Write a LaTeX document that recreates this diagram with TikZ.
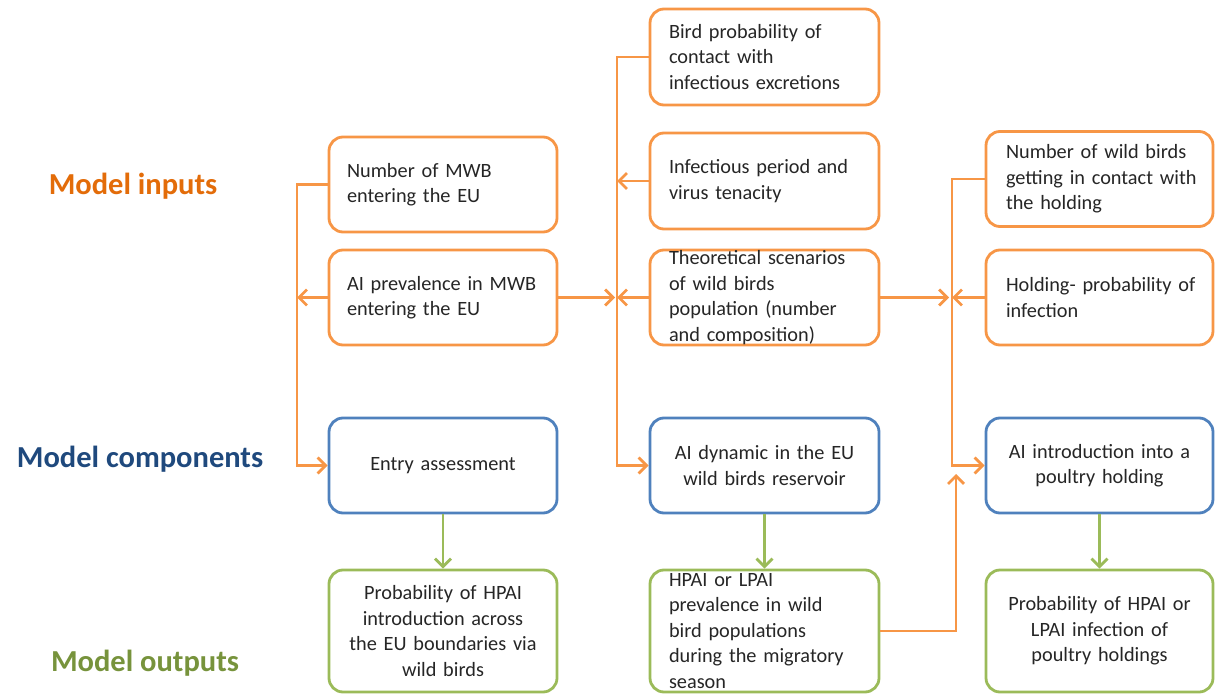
\documentclass[tikz,border=0pt]{standalone}
\usepackage{fontspec}
\setmainfont{Carlito}
\usetikzlibrary{arrows.meta}
\definecolor{oorange}{HTML}{F79646}
\definecolor{oblue}{HTML}{4F81BD}
\definecolor{ogreen}{HTML}{9BBB59}
\definecolor{linp}{HTML}{E36C09}
\definecolor{lcomp}{HTML}{1F497D}
\definecolor{lout}{HTML}{77933C}
\definecolor{txtc}{HTML}{262626}
\begin{document}
\begin{tikzpicture}[x=1pt,y=-1pt,
  boxbase/.style={rectangle, rounded corners=14pt, line width=2.8pt, fill=white, inner sep=0pt},
  obox/.style={boxbase, draw=oorange},
  bbox/.style={boxbase, draw=oblue},
  gbox/.style={boxbase, draw=ogreen},
  ltxt/.style={inner sep=0pt, text width=210pt, align=left, text=txtc, font=\fontsize{20.3}{25.5}\selectfont},
  ctxt/.style={inner sep=0pt, text width=210pt, align=center, text=txtc, font=\fontsize{20.3}{25.5}\selectfont},
  head/.style={inner sep=0pt, font=\fontsize{30.5}{36}\selectfont\bfseries},
  oarr/.style={draw=oorange, line width=2.8pt, -{Straight Barb[length=8pt,width=16pt]}},
  garr/.style={draw=ogreen, line width=2.8pt, -{Straight Barb[length=8pt,width=16pt]}}
]
\useasboundingbox (0,0) rectangle (1215,695);

% headings
\node[head, text=linp] (hin) at (133,186) {Model inputs};
\node[head, text=lcomp] (hcomp) at (140,459) {Model components};
\node[head, text=lout] (hout) at (145,663) {Model outputs};

% column 1
\node[obox, minimum width=228pt, minimum height=95pt] (a1) at (443,184.5) {};
\node[ltxt] (a1t) at ([xshift=9pt]a1) {Number of MWB\\entering the EU};
\node[obox, minimum width=228pt, minimum height=95pt] (a2) at (443,297.5) {};
\node[ltxt] (a2t) at ([xshift=9pt]a2) {AI prevalence in MWB\\entering the EU};
\node[bbox, minimum width=228pt, minimum height=95pt] (a3) at (443,465.5) {};
\node[ctxt] (a3t) at (a3) {Entry assessment};
\node[gbox, minimum width=228pt, minimum height=122pt] (a4) at (443,631) {};
\node[ctxt] (a4t) at (a4) {Probability of HPAI\\introduction across\\the EU boundaries via\\wild birds};

% column 2
\node[obox, minimum width=229pt, minimum height=96pt] (b0) at (764.5,57) {};
\node[ltxt] (b0t) at ([xshift=9.5pt]b0) {Bird probability of\\contact with\\infectious excretions};
\node[obox, minimum width=229pt, minimum height=96pt] (b1) at (764.5,181) {};
\node[ltxt] (b1t) at ([xshift=9.5pt]b1) {Infectious period and\\virus tenacity};
\node[obox, minimum width=229pt, minimum height=95pt] (b2) at (764.5,297.5) {};
\node[ltxt] (b2t) at ([xshift=9.5pt]b2) {Theoretical scenarios\\of wild birds\\population (number\\and composition)};
\node[bbox, minimum width=229pt, minimum height=95pt] (b3) at (764.5,465.5) {};
\node[ctxt] (b3t) at (b3) {AI dynamic in the EU\\wild birds reservoir};
\node[gbox, minimum width=229pt, minimum height=122pt] (b4) at (764.5,631) {};
\node[ltxt] (b4t) at ([xshift=9.5pt]b4) {HPAI or LPAI\\prevalence in wild\\bird populations\\during the migratory\\season};

% column 3
\node[obox, minimum width=227pt, minimum height=95pt] (c1) at (1099.5,179) {};
\node[ltxt] (c1t) at ([xshift=11.5pt]c1) {Number of wild birds\\getting in contact with\\the holding};
\node[obox, minimum width=227pt, minimum height=95pt] (c2) at (1099.5,297.5) {};
\node[ltxt] (c2t) at ([xshift=11.5pt]c2) {Holding- probability of\\infection};
\node[bbox, minimum width=227pt, minimum height=95pt] (c3) at (1099.5,465.5) {};
\node[ctxt] (c3t) at (c3) {AI introduction into a\\poultry holding};
\node[gbox, minimum width=227pt, minimum height=122pt] (c4) at (1099.5,631) {};
\node[ctxt] (c4t) at (c4) {Probability of HPAI or\\LPAI infection of\\poultry holdings};

% bus coordinates
\coordinate (bus1) at (297,0);
\coordinate (bus2) at (617,0);
\coordinate (bus3) at (952,0);
\coordinate (up) at (956,474);

% column 1 connectors
\draw[oarr] (a1.west) -| (bus1 |- a3.west) -- (a3.west);
\draw[oarr] (a2.west) -- (a2.west -| bus1);
\draw[oarr] (a2.east) -- ([xshift=-2pt]a2.east -| bus2);

% column 2 connectors
\draw[oarr] (b0.west) -| (bus2 |- b3.west) -- (b3.west);
\draw[oarr] (b1.west) -- (b1.west -| bus2);
\draw[oarr] (b2.west) -- (b2.west -| bus2);
\draw[oarr] (b2.east) -- ([xshift=-3pt]b2.east -| bus3);

% column 3 connectors
\draw[oarr] (c1.west) -| (bus3 |- c3.west) -- (c3.west);
\draw[oarr] (c2.west) -- (c2.west -| bus3);
\draw[oarr] (b4.east) -| (up);

% outputs
\draw[garr] (a3.south) -- (a4.north);
\draw[garr] (b3.south) -- (b4.north);
\draw[garr] (c3.south) -- (c4.north);
\end{tikzpicture}
\end{document}
